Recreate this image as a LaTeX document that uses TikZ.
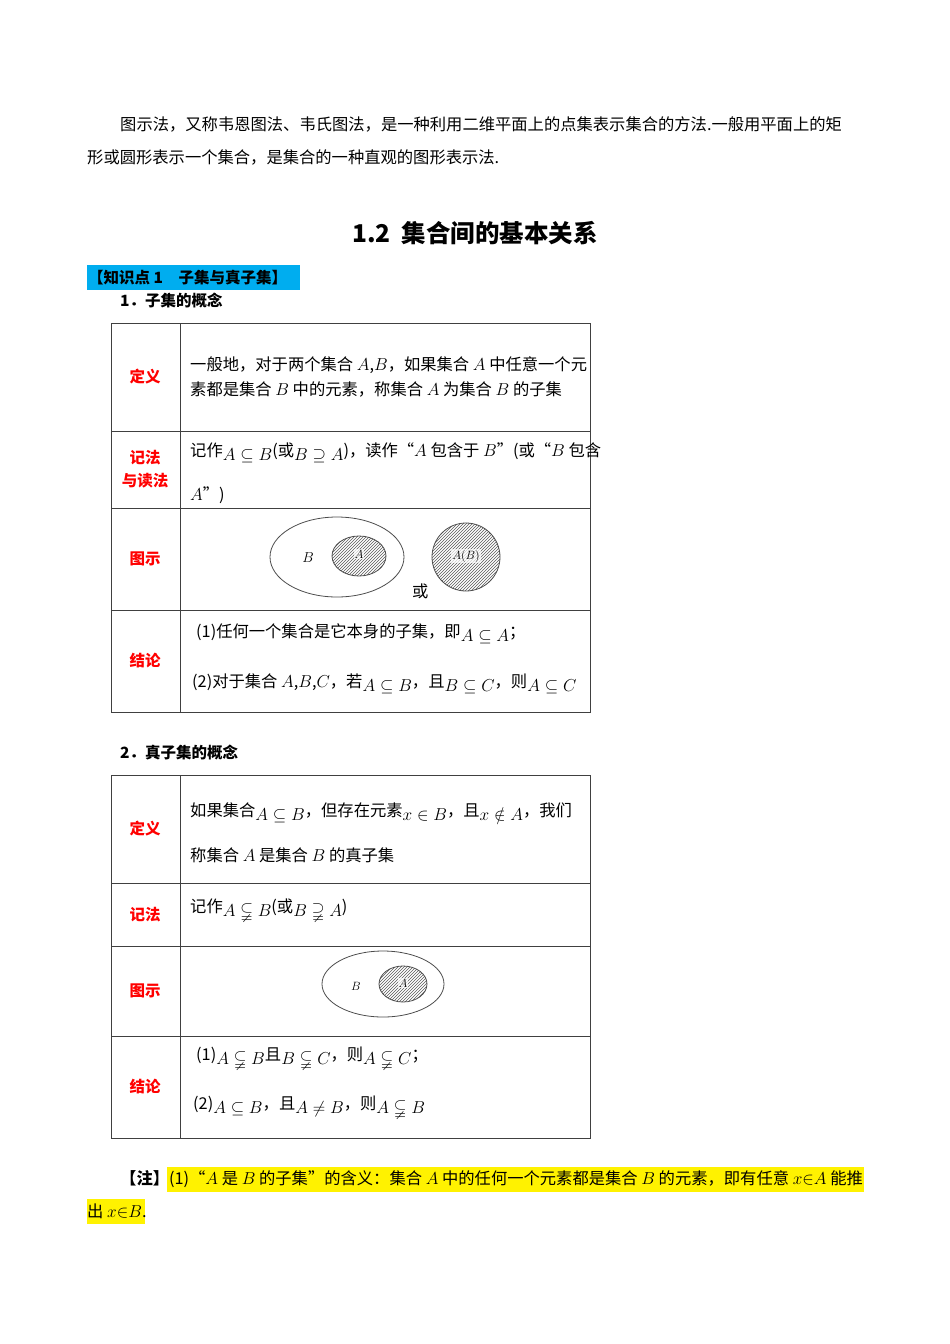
\documentclass[tikz,border=0pt]{standalone}
\usepackage{amssymb}
\usepackage{fontspec}
\setmainfont{Noto Sans CJK SC}
\usetikzlibrary{patterns}
\newcommand{\lo}[1]{\raisebox{-4pt}{$#1$}}
\tikzset{
  t/.style={anchor=west,inner sep=0pt,font=\fontsize{16.3}{17}\selectfont},
  lab/.style={inner sep=0pt,align=center,text=red,font=\fontsize{15.5}{23}\selectfont\bfseries},
  grid/.style={draw=black!75,line width=0.9pt},
  hatch/.style={draw=black!70,line width=0.8pt,pattern=north east lines,pattern color=black!65},
  vl/.style={inner sep=1pt,fill=white,fill opacity=0.7,text opacity=1,font=\fontsize{13}{13}\selectfont}
}
\begin{document}
\begin{tikzpicture}[x=1pt,y=-1pt]
\useasboundingbox (0,0) rectangle (950,1344);
\node[t] (p1) at (120,124) {图示法，又称韦恩图法、韦氏图法，是一种利用二维平面上的点集表示集合的方法.一般用平面上的矩};
\node[t] (p2) at (87,157) {形或圆形表示一个集合，是集合的一种直观的图形表示法.};
\node[inner sep=0pt,font=\fontsize{24.5}{25}\selectfont\bfseries] (title) at (475,233) {1.2\ \ 集合间的基本关系};
\fill[cyan] (87,265) rectangle (300,290);
\node[t,font=\fontsize{15.5}{16}\selectfont\bfseries] (k1) at (88,277.5) {【知识点 1\quad 子集与真子集】};
\node[t,font=\fontsize{15.5}{16}\selectfont\bfseries] (s1) at (120,301) {1．子集的概念};
% table 1
\draw[grid] (111,323) rectangle (590,712);
\draw[grid] (180,323) -- (180,712);
\foreach \y in {431,508,610} \draw[grid] (111,\y) -- (590,\y);
\node[lab] (l1) at (145,377) {定义};
\node[lab] (l2) at (145,469) {记法\\与读法};
\node[lab] (l3) at (145,559) {图示};
\node[lab] (l4) at (145,661) {结论};
\node[t] (d1) at (190,365) {一般地，对于两个集合 $A$,$B$，如果集合 $A$ 中任意一个元};
\node[t] (d2) at (190,389) {素都是集合 $B$ 中的元素，称集合 $A$ 为集合 $B$ 的子集};
\node[t] (n1) at (190,453) {记作\lo{A\subseteq B}(或\lo{B\supseteq A})，读作“$A$ 包含于 $B$”(或“$B$ 包含};
\node[t] (n2) at (190,495) {$A$”)};
\draw[draw=black!70,line width=0.8pt] (337,557) ellipse (67 and 40);
\draw[hatch] (359,556) ellipse (27 and 20);
\node[vl] (vA) at (359,554) {$A$};
\node[font=\fontsize{14}{14}\selectfont] (vB) at (308,558) {$B$};
\draw[hatch] (466,557) circle (34);
\node[vl] (vAB) at (466,556) {$A(B)$};
\node[t] (or) at (412,591) {或};
\node[t] (c1) at (196,634) {(1)任何一个集合是它本身的子集，即\lo{A\subseteq A}；};
\node[t] (c2) at (192,684) {(2)对于集合 $A$,$B$,$C$，若\lo{A\subseteq B}，且\lo{B\subseteq C}，则\lo{A\subseteq C}};
% table 2
\node[t,font=\fontsize{15.5}{16}\selectfont\bfseries] (s2) at (120,753) {2．真子集的概念};
\draw[grid] (111,775) rectangle (590,1138);
\draw[grid] (180,775) -- (180,1138);
\foreach \y in {883,946,1036} \draw[grid] (111,\y) -- (590,\y);
\node[lab] (m1) at (145,829) {定义};
\node[lab] (m2) at (145,915) {记法};
\node[lab] (m3) at (145,991) {图示};
\node[lab] (m4) at (145,1087) {结论};
\node[t] (e1) at (190,813) {如果集合\lo{A\subseteq B}，但存在元素\lo{x\in B}，且\lo{x\notin A}，我们};
\node[t] (e2) at (190,855) {称集合 $A$ 是集合 $B$ 的真子集};
\node[t] (f1) at (190,910) {记作\lo{A\subsetneqq B}(或\lo{B\supsetneqq A})};
\draw[draw=black!70,line width=0.8pt] (383,984) ellipse (61 and 33);
\draw[hatch] (403,984) ellipse (24 and 18);
\node[vl] (wA) at (403,983) {$A$};
\node[font=\fontsize{13}{13}\selectfont] (wB) at (356,986) {$B$};
\node[t] (g1) at (196,1058) {(1)\lo{A\subsetneqq B}且\lo{B\subsetneqq C}，则\lo{A\subsetneqq C}；};
\node[t] (g2) at (193,1107) {(2)\lo{A\subseteq B}，且\lo{A\neq B}，则\lo{A\subsetneqq B}};
% note
\fill[yellow] (167,1167) rectangle (864,1192);
\fill[yellow] (87,1199) rectangle (145,1224);
\node[t] (z1) at (120,1179) {\textbf{【注】}(1)“$A$ 是 $B$ 的子集”的含义：集合 $A$ 中的任何一个元素都是集合 $B$ 的元素，即有任意 $x{\in}A$ 能推};
\node[t] (z2) at (87,1211) {出 $x{\in}B$.};
\end{tikzpicture}
\end{document}
